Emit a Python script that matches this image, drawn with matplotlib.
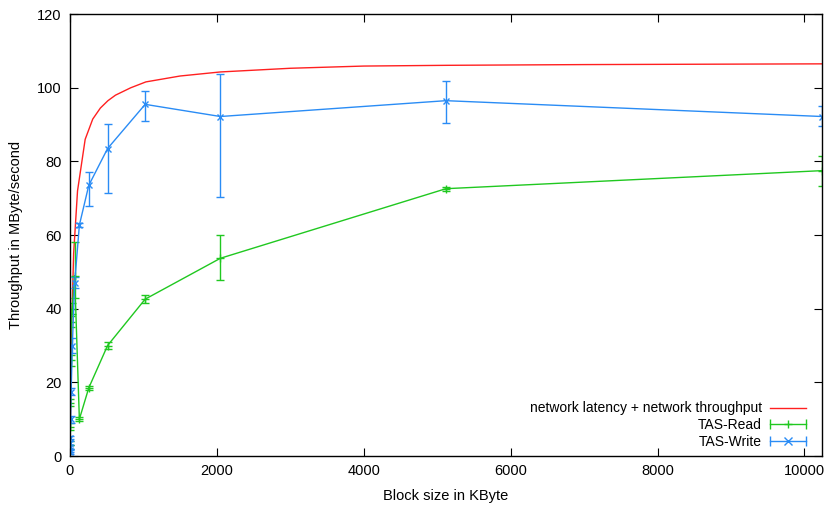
import matplotlib.pyplot as plt
import numpy as np
from matplotlib.legend_handler import HandlerBase
from matplotlib.lines import Line2D

plt.rcParams['font.family'] = ['Liberation Sans', 'DejaVu Sans']

# model curve (latency + throughput)
model_x = [0, 20, 50, 103, 207, 310, 414, 517, 620, 827, 1034, 1500, 2048,
           3000, 4000, 5120, 7000, 10240]
model_y = [0, 33, 55, 72, 86, 91.5, 94.5, 96.5, 98, 100, 101.6, 103.2, 104.3,
           105.3, 105.9, 106.1, 106.3, 106.5]

# TAS-Read: value, lower and upper end of the error bar
read_x = [1, 2, 4, 8, 16, 32, 64, 128, 256, 512, 1024, 2048, 5120, 10240]
read_y = [3, 8, 14.5, 26, 36.5, 40, 49, 10, 18.5, 30, 42.6, 53.7, 72.6, 77.5]
read_lo = [2, 7, 13.5, 24.5, 35, 38.5, 43, 9.5, 18, 29, 41.6, 47.8, 72.1, 73.4]
read_hi = [4, 9, 15.5, 27.5, 38, 41.5, 58, 10.5, 19, 31, 43.6, 60, 73.1, 81.4]

# TAS-Write
write_x = [0.25, 0.5, 1, 2, 4, 8, 16, 32, 64, 128, 256, 512, 1024, 2048, 5120, 10240]
write_y = [1, 1.5, 2.5, 3.5, 5, 10, 17.5, 30, 47, 62.7, 73.5, 83.5, 95.5, 92.2, 96.5, 92.2]
write_lo = [0.5, 1, 2, 3, 4.5, 9, 16.5, 28, 45.5, 62.2, 68, 71.5, 91, 70.3, 90.5, 89.5]
write_hi = [1.5, 2, 3, 4, 5.5, 11, 18.5, 32, 48.5, 63.2, 77, 90.2, 99, 103.8, 101.9, 95]

red = '#ff2020'
green = '#20c820'
blue = '#2a8cf5'


class HErrHandler(HandlerBase):
    # gnuplot style key: horizontal bar with end caps and the marker in the middle
    def __init__(self, marker, **kw):
        super().__init__(**kw)
        self.marker = marker

    def create_artists(self, legend, orig, xd, yd, w, h, fs, trans):
        c = orig[0].get_color()
        y = h / 2 - yd
        x0, x1 = -xd, -xd + w
        ln = Line2D([x0, x1], [y, y], color=c, lw=1.0, transform=trans)
        caps = Line2D([x0, x1], [y, y], color=c, ls='none', marker='|',
                      ms=7, mew=1.0, transform=trans)
        mk = Line2D([(x0 + x1) / 2], [y], color=c, ls='none',
                    marker=self.marker, ms=6, mew=1.0, transform=trans)
        return [ln, caps, mk]


fig = plt.figure(figsize=(8.27, 5.05), dpi=100)
ax = fig.add_axes([0.0846, 0.097, 0.9094, 0.875])

ax.plot(model_x, model_y, color=red, lw=1.0,
        label='network latency + network throughput')

ry = np.array(read_y)
ryerr = [ry - np.array(read_lo), np.array(read_hi) - ry]
r = ax.errorbar(read_x, read_y, yerr=ryerr, color=green, lw=1.0,
                marker='+', ms=6, mew=1.0, capsize=3, elinewidth=1.0)

wy = np.array(write_y)
wyerr = [wy - np.array(write_lo), np.array(write_hi) - wy]
w = ax.errorbar(write_x, write_y, yerr=wyerr, color=blue, lw=1.0,
                marker='x', ms=5, mew=1.0, capsize=3, elinewidth=1.0)

ax.set_xlim(0, 10240)
ax.set_ylim(0, 120)
ax.set_xticks(np.arange(0, 10001, 2000))
ax.set_yticks(np.arange(0, 121, 20))
ax.tick_params(direction='in', top=True, right=True, length=6,
               labelsize=10.5, pad=6)
for s in ax.spines.values():
    s.set_linewidth(1.0)

ax.set_xlabel('Block size in KByte', fontsize=10.5, labelpad=8)
ax.set_ylabel('Throughput in MByte/second', fontsize=10.5, labelpad=10)

red_h = ax.lines[0]
rh = (Line2D([], [], color=green),)
wh = (Line2D([], [], color=blue),)
leg = ax.legend([red_h, rh, wh],
                ['network latency + network throughput', 'TAS-Read', 'TAS-Write'],
                handler_map={rh: HErrHandler('+'), wh: HErrHandler('x')},
                loc='lower right', bbox_to_anchor=(0.979, 0.016),
                frameon=False, markerfirst=False, borderpad=0,
                borderaxespad=0, fontsize=10, handlelength=2.6,
                labelspacing=0.2, handletextpad=0.6)
leg._legend_box.align = 'right'

plt.savefig('out.png', dpi=100)
